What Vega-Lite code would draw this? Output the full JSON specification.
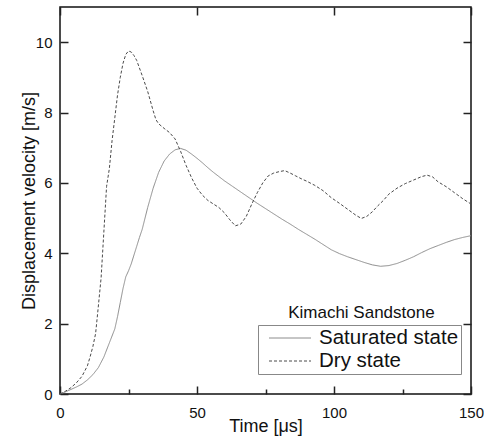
{
  "$schema": "https://vega.github.io/schema/vega-lite/v6.json",
  "autosize": {"type": "none"},
  "padding": {"left": 60, "top": 7, "right": 13, "bottom": 47},
  "width": 411,
  "height": 387,
  "background": "white",
  "config": {
    "font": "Liberation Sans",
    "view": {"stroke": "#111", "strokeWidth": 1.5},
    "axis": {"grid": false, "labelFlush": false, "labelFont": "Liberation Sans", "titleFont": "Liberation Sans", "labelColor": "#111", "titleColor": "#111", "titleFontWeight": "normal", "labelFontSize": 15, "titleFontSize": 18}
  },
  "datasets": {
    "curves": [
      {"t": 0, "v": 0, "s": "Saturated state"},
      {"t": 2, "v": 0.06, "s": "Saturated state"},
      {"t": 4, "v": 0.13, "s": "Saturated state"},
      {"t": 6, "v": 0.2, "s": "Saturated state"},
      {"t": 8, "v": 0.28, "s": "Saturated state"},
      {"t": 10, "v": 0.4, "s": "Saturated state"},
      {"t": 12, "v": 0.55, "s": "Saturated state"},
      {"t": 14, "v": 0.75, "s": "Saturated state"},
      {"t": 16, "v": 1.05, "s": "Saturated state"},
      {"t": 18, "v": 1.45, "s": "Saturated state"},
      {"t": 20, "v": 1.85, "s": "Saturated state"},
      {"t": 21, "v": 2.2, "s": "Saturated state"},
      {"t": 22, "v": 2.6, "s": "Saturated state"},
      {"t": 23, "v": 3.0, "s": "Saturated state"},
      {"t": 24, "v": 3.33, "s": "Saturated state"},
      {"t": 25, "v": 3.5, "s": "Saturated state"},
      {"t": 26, "v": 3.7, "s": "Saturated state"},
      {"t": 27, "v": 3.95, "s": "Saturated state"},
      {"t": 28, "v": 4.2, "s": "Saturated state"},
      {"t": 29, "v": 4.45, "s": "Saturated state"},
      {"t": 30, "v": 4.68, "s": "Saturated state"},
      {"t": 32, "v": 5.3, "s": "Saturated state"},
      {"t": 34, "v": 5.85, "s": "Saturated state"},
      {"t": 36, "v": 6.3, "s": "Saturated state"},
      {"t": 38, "v": 6.62, "s": "Saturated state"},
      {"t": 40, "v": 6.82, "s": "Saturated state"},
      {"t": 42, "v": 6.94, "s": "Saturated state"},
      {"t": 44, "v": 6.98, "s": "Saturated state"},
      {"t": 46, "v": 6.93, "s": "Saturated state"},
      {"t": 48, "v": 6.82, "s": "Saturated state"},
      {"t": 50, "v": 6.7, "s": "Saturated state"},
      {"t": 52, "v": 6.57, "s": "Saturated state"},
      {"t": 54, "v": 6.43, "s": "Saturated state"},
      {"t": 56, "v": 6.3, "s": "Saturated state"},
      {"t": 58, "v": 6.18, "s": "Saturated state"},
      {"t": 60, "v": 6.06, "s": "Saturated state"},
      {"t": 63, "v": 5.9, "s": "Saturated state"},
      {"t": 66, "v": 5.74, "s": "Saturated state"},
      {"t": 69, "v": 5.58, "s": "Saturated state"},
      {"t": 72, "v": 5.42, "s": "Saturated state"},
      {"t": 75, "v": 5.27, "s": "Saturated state"},
      {"t": 78, "v": 5.12, "s": "Saturated state"},
      {"t": 81, "v": 4.97, "s": "Saturated state"},
      {"t": 84, "v": 4.83, "s": "Saturated state"},
      {"t": 87, "v": 4.68, "s": "Saturated state"},
      {"t": 90, "v": 4.54, "s": "Saturated state"},
      {"t": 93, "v": 4.4, "s": "Saturated state"},
      {"t": 96, "v": 4.25, "s": "Saturated state"},
      {"t": 99, "v": 4.1, "s": "Saturated state"},
      {"t": 102, "v": 3.99, "s": "Saturated state"},
      {"t": 105, "v": 3.9, "s": "Saturated state"},
      {"t": 108, "v": 3.82, "s": "Saturated state"},
      {"t": 111, "v": 3.74, "s": "Saturated state"},
      {"t": 114, "v": 3.67, "s": "Saturated state"},
      {"t": 117, "v": 3.63, "s": "Saturated state"},
      {"t": 120, "v": 3.65, "s": "Saturated state"},
      {"t": 123, "v": 3.71, "s": "Saturated state"},
      {"t": 126, "v": 3.8, "s": "Saturated state"},
      {"t": 129, "v": 3.9, "s": "Saturated state"},
      {"t": 132, "v": 4.02, "s": "Saturated state"},
      {"t": 135, "v": 4.13, "s": "Saturated state"},
      {"t": 138, "v": 4.22, "s": "Saturated state"},
      {"t": 141, "v": 4.31, "s": "Saturated state"},
      {"t": 144, "v": 4.39, "s": "Saturated state"},
      {"t": 147, "v": 4.45, "s": "Saturated state"},
      {"t": 150, "v": 4.5, "s": "Saturated state"},
      {"t": 0, "v": 0, "s": "Dry state"},
      {"t": 2, "v": 0.08, "s": "Dry state"},
      {"t": 4, "v": 0.18, "s": "Dry state"},
      {"t": 6, "v": 0.32, "s": "Dry state"},
      {"t": 8, "v": 0.5, "s": "Dry state"},
      {"t": 10, "v": 0.8, "s": "Dry state"},
      {"t": 11, "v": 1.06, "s": "Dry state"},
      {"t": 12, "v": 1.35, "s": "Dry state"},
      {"t": 13, "v": 1.72, "s": "Dry state"},
      {"t": 14, "v": 2.5, "s": "Dry state"},
      {"t": 15, "v": 3.3, "s": "Dry state"},
      {"t": 16, "v": 4.6, "s": "Dry state"},
      {"t": 17, "v": 5.9, "s": "Dry state"},
      {"t": 18, "v": 6.4, "s": "Dry state"},
      {"t": 19, "v": 7.2, "s": "Dry state"},
      {"t": 20, "v": 7.85, "s": "Dry state"},
      {"t": 21, "v": 8.5, "s": "Dry state"},
      {"t": 22, "v": 9.0, "s": "Dry state"},
      {"t": 23, "v": 9.4, "s": "Dry state"},
      {"t": 24, "v": 9.65, "s": "Dry state"},
      {"t": 25, "v": 9.75, "s": "Dry state"},
      {"t": 26, "v": 9.72, "s": "Dry state"},
      {"t": 27, "v": 9.62, "s": "Dry state"},
      {"t": 28, "v": 9.48, "s": "Dry state"},
      {"t": 30, "v": 9.05, "s": "Dry state"},
      {"t": 32, "v": 8.6, "s": "Dry state"},
      {"t": 34, "v": 8.05, "s": "Dry state"},
      {"t": 35, "v": 7.8, "s": "Dry state"},
      {"t": 36, "v": 7.68, "s": "Dry state"},
      {"t": 38, "v": 7.55, "s": "Dry state"},
      {"t": 40, "v": 7.43, "s": "Dry state"},
      {"t": 42, "v": 7.25, "s": "Dry state"},
      {"t": 44, "v": 6.9, "s": "Dry state"},
      {"t": 46, "v": 6.5, "s": "Dry state"},
      {"t": 48, "v": 6.15, "s": "Dry state"},
      {"t": 50, "v": 5.85, "s": "Dry state"},
      {"t": 52, "v": 5.65, "s": "Dry state"},
      {"t": 54, "v": 5.5, "s": "Dry state"},
      {"t": 56, "v": 5.4, "s": "Dry state"},
      {"t": 58, "v": 5.3, "s": "Dry state"},
      {"t": 60, "v": 5.15, "s": "Dry state"},
      {"t": 62, "v": 4.95, "s": "Dry state"},
      {"t": 64, "v": 4.78, "s": "Dry state"},
      {"t": 66, "v": 4.83, "s": "Dry state"},
      {"t": 68, "v": 5.05, "s": "Dry state"},
      {"t": 70, "v": 5.4, "s": "Dry state"},
      {"t": 72, "v": 5.72, "s": "Dry state"},
      {"t": 74, "v": 6.0, "s": "Dry state"},
      {"t": 76, "v": 6.2, "s": "Dry state"},
      {"t": 78, "v": 6.28, "s": "Dry state"},
      {"t": 80, "v": 6.32, "s": "Dry state"},
      {"t": 82, "v": 6.35, "s": "Dry state"},
      {"t": 84, "v": 6.28, "s": "Dry state"},
      {"t": 86, "v": 6.2, "s": "Dry state"},
      {"t": 88, "v": 6.12, "s": "Dry state"},
      {"t": 90, "v": 6.05, "s": "Dry state"},
      {"t": 93, "v": 5.93, "s": "Dry state"},
      {"t": 96, "v": 5.78, "s": "Dry state"},
      {"t": 99, "v": 5.58, "s": "Dry state"},
      {"t": 102, "v": 5.42, "s": "Dry state"},
      {"t": 105, "v": 5.25, "s": "Dry state"},
      {"t": 108, "v": 5.08, "s": "Dry state"},
      {"t": 110, "v": 4.99, "s": "Dry state"},
      {"t": 112, "v": 5.05, "s": "Dry state"},
      {"t": 114, "v": 5.18, "s": "Dry state"},
      {"t": 116, "v": 5.35, "s": "Dry state"},
      {"t": 118, "v": 5.5, "s": "Dry state"},
      {"t": 120, "v": 5.68, "s": "Dry state"},
      {"t": 123, "v": 5.85, "s": "Dry state"},
      {"t": 126, "v": 5.98, "s": "Dry state"},
      {"t": 129, "v": 6.08, "s": "Dry state"},
      {"t": 132, "v": 6.18, "s": "Dry state"},
      {"t": 134, "v": 6.22, "s": "Dry state"},
      {"t": 136, "v": 6.17, "s": "Dry state"},
      {"t": 138, "v": 6.03, "s": "Dry state"},
      {"t": 141, "v": 5.89, "s": "Dry state"},
      {"t": 144, "v": 5.72, "s": "Dry state"},
      {"t": 147, "v": 5.55, "s": "Dry state"},
      {"t": 150, "v": 5.4, "s": "Dry state"}
    ],
    "note": [{"t": 110, "v": 2.16, "label": "Kimachi Sandstone"}]
  },
  "layer": [
    {
      "data": {"name": "curves"},
      "mark": {"type": "line", "strokeWidth": 1},
      "encoding": {
        "x": {"field": "t", "type": "quantitative", "scale": {"domain": [0, 150], "nice": false, "zero": false},
          "axis": {"orient": "bottom", "title": "Time [μs]", "values": [0, 50, 100, 150], "domain": false, "ticks": true, "tickColor": "#222", "tickWidth": 1.5,
            "offset": -8, "tickSize": 8, "labelPadding": 11, "titlePadding": -3}},
        "y": {"field": "v", "type": "quantitative", "scale": {"domain": [0, 11], "nice": false, "zero": false},
          "axis": {"orient": "left", "title": "Displacement velocity [m/s]", "values": [0, 2, 4, 6, 8, 10], "domain": false, "ticks": true, "tickColor": "#222", "tickWidth": 1.5,
            "offset": -8, "tickSize": 8, "labelPadding": 8, "titlePadding": -3}},
        "color": {"field": "s", "type": "nominal", "sort": ["Saturated state", "Dry state"],
          "scale": {"domain": ["Saturated state", "Dry state"], "range": ["#8c8c8c", "#4a4a4a"]},
          "legend": {"orient": "none", "legendX": 198, "legendY": 318, "title": null, "strokeColor": "#888", "fillColor": "white",
            "padding": 2, "labelFontSize": 20.5, "labelFont": "Liberation Sans", "labelColor": "#111",
            "symbolType": "M-2,0L2,0", "symbolSize": 441, "symbolStrokeWidth": 1, "symbolOffset": 19, "rowPadding": 1, "labelOffset": 18}},
        "strokeDash": {"field": "s", "type": "nominal", "sort": ["Saturated state", "Dry state"],
          "scale": {"domain": ["Saturated state", "Dry state"], "range": [[1, 0], [3, 2]]}, "legend": null}
      }
    },
    {
      "data": {"name": "note"},
      "mark": {"type": "text", "fontSize": 17, "font": "Liberation Sans", "color": "#111", "baseline": "alphabetic", "align": "center"},
      "encoding": {
        "x": {"field": "t", "type": "quantitative", "axis": null},
        "y": {"field": "v", "type": "quantitative", "axis": null},
        "text": {"field": "label"}
      }
    },
    {
      "data": {"name": "note"},
      "mark": {"type": "point", "opacity": 0},
      "encoding": {
        "x": {"field": "t", "type": "quantitative",
          "axis": {"orient": "top", "title": null, "labels": false, "values": [0, 50, 100, 150], "domain": false, "ticks": true, "tickColor": "#222", "tickWidth": 1.5, "offset": -8, "tickSize": 8}},
        "y": {"field": "v", "type": "quantitative",
          "axis": {"orient": "right", "title": null, "labels": false, "values": [0, 2, 4, 6, 8, 10], "domain": false, "ticks": true, "tickColor": "#222", "tickWidth": 1.5, "offset": -8, "tickSize": 8}}
      }
    },
    {
      "data": {"name": "note"},
      "mark": {"type": "point", "opacity": 0},
      "encoding": {
        "x": {"field": "t", "type": "quantitative",
          "axis": {"orient": "bottom", "title": null, "labels": false, "values": [25, 75, 125], "domain": false, "ticks": true, "tickColor": "#222", "tickWidth": 1.5, "offset": -5, "tickSize": 5}},
        "y": {"field": "v", "type": "quantitative", "axis": null}
      }
    }
  ],
  "resolve": {"axis": {"x": "independent", "y": "independent"}}
}
